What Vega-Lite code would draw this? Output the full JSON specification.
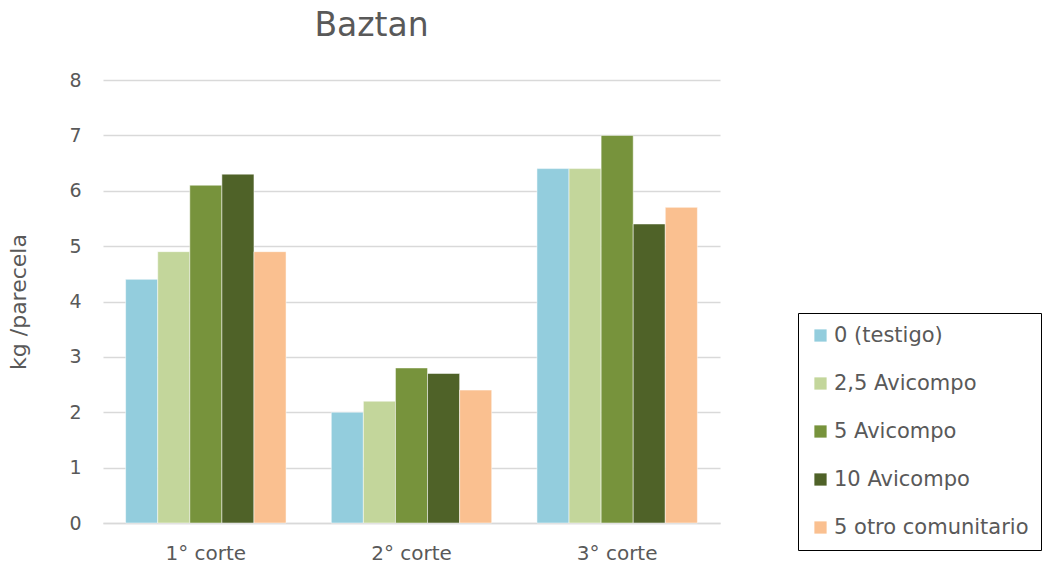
{
  "$schema": "https://vega.github.io/schema/vega-lite/v6.json",
  "autosize": {"type": "none"},
  "padding": {"left": 103, "top": 80, "right": 326, "bottom": 45},
  "width": 617,
  "height": 443,
  "background": "white",
  "title": {
    "text": "Baztan",
    "fontSize": 33,
    "font": "DejaVu Sans",
    "fontWeight": "normal",
    "color": "#595959",
    "anchor": "middle",
    "dx": -40,
    "offset": 28
  },
  "data": {
    "values": [
      {"corte": "1° corte", "serie": "0 (testigo)", "valor": 4.4},
      {"corte": "1° corte", "serie": "2,5 Avicompo", "valor": 4.9},
      {"corte": "1° corte", "serie": "5 Avicompo", "valor": 6.1},
      {"corte": "1° corte", "serie": "10 Avicompo", "valor": 6.3},
      {"corte": "1° corte", "serie": "5 otro comunitario", "valor": 4.9},
      {"corte": "2° corte", "serie": "0 (testigo)", "valor": 2.0},
      {"corte": "2° corte", "serie": "2,5 Avicompo", "valor": 2.2},
      {"corte": "2° corte", "serie": "5 Avicompo", "valor": 2.8},
      {"corte": "2° corte", "serie": "10 Avicompo", "valor": 2.7},
      {"corte": "2° corte", "serie": "5 otro comunitario", "valor": 2.4},
      {"corte": "3° corte", "serie": "0 (testigo)", "valor": 6.4},
      {"corte": "3° corte", "serie": "2,5 Avicompo", "valor": 6.4},
      {"corte": "3° corte", "serie": "5 Avicompo", "valor": 7.0},
      {"corte": "3° corte", "serie": "10 Avicompo", "valor": 5.4},
      {"corte": "3° corte", "serie": "5 otro comunitario", "valor": 5.7}
    ]
  },
  "mark": {"type": "bar", "stroke": "white", "strokeWidth": 0.5},
  "encoding": {
    "x": {
      "field": "corte",
      "type": "nominal",
      "sort": null,
      "scale": {"paddingInner": 0.22, "paddingOuter": 0.11},
      "axis": {
        "title": null,
        "labelAngle": 0,
        "labelFontSize": 20,
        "labelFont": "DejaVu Sans",
        "labelColor": "#595959",
        "labelPadding": 20,
        "ticks": false,
        "domainColor": "#D9D9D9",
        "domainWidth": 1.5
      }
    },
    "xOffset": {
      "field": "serie",
      "type": "nominal",
      "sort": ["0 (testigo)", "2,5 Avicompo", "5 Avicompo", "10 Avicompo", "5 otro comunitario"],
      "scale": {"paddingInner": 0, "paddingOuter": 0}
    },
    "y": {
      "field": "valor",
      "type": "quantitative",
      "scale": {"domain": [0, 8], "nice": false},
      "axis": {
        "title": "kg /parecela",
        "titleFontSize": 22,
        "titleFont": "DejaVu Sans",
        "titleFontWeight": "normal",
        "titleColor": "#595959",
        "titlePadding": 38,
        "values": [0, 1, 2, 3, 4, 5, 6, 7, 8],
        "labelOverlap": false,
        "labelFontSize": 19,
        "labelFont": "DejaVu Sans",
        "labelColor": "#595959",
        "labelPadding": 22,
        "ticks": false,
        "domain": false,
        "gridColor": "#D9D9D9",
        "gridWidth": 1.5
      }
    },
    "color": {
      "field": "serie",
      "type": "nominal",
      "sort": ["0 (testigo)", "2,5 Avicompo", "5 Avicompo", "10 Avicompo", "5 otro comunitario"],
      "scale": {
        "domain": ["0 (testigo)", "2,5 Avicompo", "5 Avicompo", "10 Avicompo", "5 otro comunitario"],
        "range": ["#93CDDD", "#C3D69B", "#77933C", "#4F6228", "#FAC090"]
      },
      "legend": {
        "title": null,
        "orient": "none",
        "legendX": 695,
        "legendY": 233,
        "strokeColor": "black",
        "padding": 12,
        "symbolType": "square",
        "symbolSize": 150,
        "symbolStrokeWidth": 0,
        "labelFontSize": 21,
        "labelFont": "DejaVu Sans",
        "labelColor": "#595959",
        "labelOffset": 3,
        "labelLimit": 400,
        "rowPadding": 26
      }
    }
  },
  "config": {"view": {"stroke": null}}
}
